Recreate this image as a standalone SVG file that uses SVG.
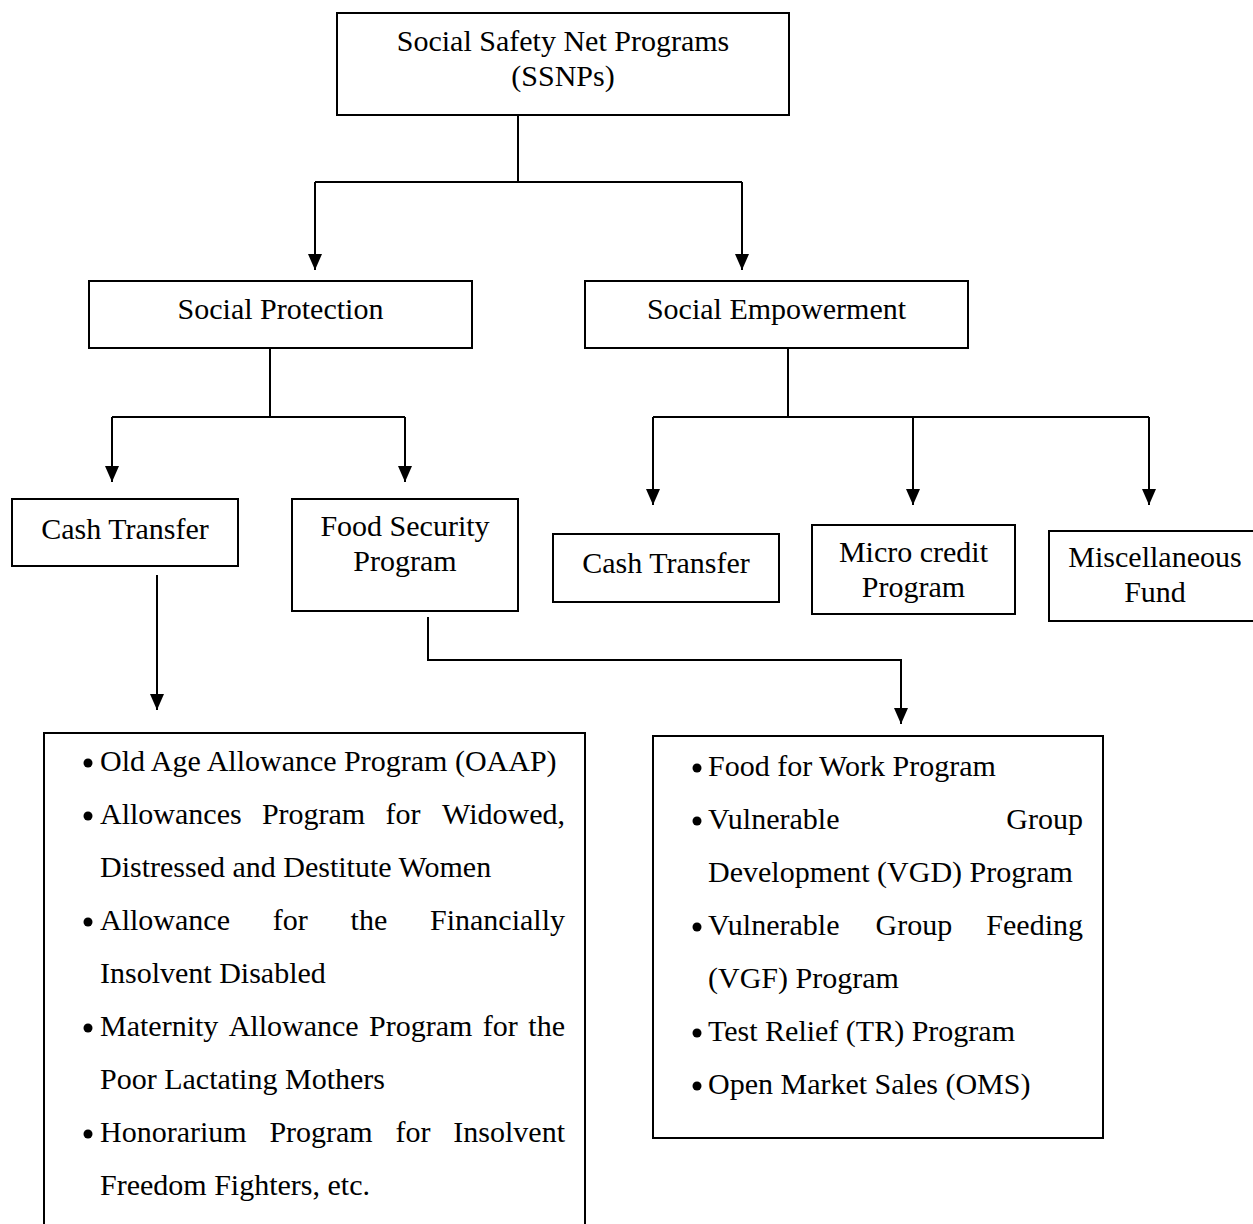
<svg xmlns="http://www.w3.org/2000/svg" width="1253" height="1224" viewBox="0 0 1253 1224">
<style>
  .box { fill: #ffffff; stroke: #000000; stroke-width: 2; }
  .lbl { font-family: "Liberation Serif", "Times New Roman", serif; font-size: 30px; fill: #000000; text-anchor: middle; }
  .li { font-family: "Liberation Serif", "Times New Roman", serif; font-size: 30px; fill: #000000; }
  .end { text-anchor: end; }
  .con { fill: none; stroke: #000000; stroke-width: 2; }
  .bul { fill: #000000; }
</style>
<defs>
  <marker id="ah" markerUnits="userSpaceOnUse" markerWidth="16" markerHeight="14" refX="16" refY="7" orient="auto">
    <path d="M0,0 L16,7 L0,14 z" fill="#000000"/>
  </marker>
</defs>
<rect width="1253" height="1224" fill="#ffffff"/>

<g id="connectors">
  <path class="con" d="M518,115 V182 M315,182 H742"/>
  <path class="con" d="M315,182 V270" marker-end="url(#ah)"/>
  <path class="con" d="M742,182 V270" marker-end="url(#ah)"/>
  <path class="con" d="M270,348 V417 M112,417 H405"/>
  <path class="con" d="M112,417 V482" marker-end="url(#ah)"/>
  <path class="con" d="M405,417 V482" marker-end="url(#ah)"/>
  <path class="con" d="M788,348 V417 M653,417 H1149"/>
  <path class="con" d="M653,417 V505" marker-end="url(#ah)"/>
  <path class="con" d="M913,417 V505" marker-end="url(#ah)"/>
  <path class="con" d="M1149,417 V505" marker-end="url(#ah)"/>
  <path class="con" d="M157,575 V710" marker-end="url(#ah)"/>
  <path class="con" d="M428,617 V660 H901 V724" marker-end="url(#ah)"/>
</g>

<g id="ssnp">
  <rect class="box" x="337" y="13" width="452" height="102"/>
  <text class="lbl" x="563" y="51">Social Safety Net Programs</text>
  <text class="lbl" x="563" y="86">(SSNPs)</text>
</g>

<g id="social-protection">
  <rect class="box" x="89" y="281" width="383" height="67"/>
  <text class="lbl" x="280.5" y="319">Social Protection</text>
</g>

<g id="social-empowerment">
  <rect class="box" x="585" y="281" width="383" height="67"/>
  <text class="lbl" x="776.5" y="319">Social Empowerment</text>
</g>

<g id="cash-transfer-1">
  <rect class="box" x="12" y="499" width="226" height="67"/>
  <text class="lbl" x="125" y="539">Cash Transfer</text>
</g>

<g id="food-security">
  <rect class="box" x="292" y="499" width="226" height="112"/>
  <text class="lbl" x="405" y="536">Food Security</text>
  <text class="lbl" x="405" y="571">Program</text>
</g>

<g id="cash-transfer-2">
  <rect class="box" x="553" y="534" width="226" height="68"/>
  <text class="lbl" x="666" y="573">Cash Transfer</text>
</g>

<g id="micro-credit">
  <rect class="box" x="812" y="525" width="203" height="89"/>
  <text class="lbl" x="913.5" y="562">Micro credit</text>
  <text class="lbl" x="913.5" y="597">Program</text>
</g>

<g id="misc-fund">
  <rect class="box" x="1049" y="531" width="210" height="90"/>
  <text class="lbl" x="1155" y="567">Miscellaneous</text>
  <text class="lbl" x="1155" y="602">Fund</text>
</g>

<g id="cash-list">
  <rect class="box" x="44" y="733" width="541" height="500"/>
  <circle class="bul" cx="88" cy="763" r="4.5"/>
  <text class="li" x="100" y="771">Old Age Allowance Program (OAAP)</text>
  <circle class="bul" cx="88" cy="816" r="4.5"/>
  <text class="li" y="824"><tspan x="100">Allowances</tspan><tspan x="261.9">Program</tspan><tspan x="385.5">for</tspan></text>
  <text class="li end" x="565" y="824">Widowed,</text>
  <text class="li" x="100" y="877">Distressed and Destitute Women</text>
  <circle class="bul" cx="88" cy="922" r="4.5"/>
  <text class="li" y="930"><tspan x="100">Allowance</tspan><tspan x="272.8">for</tspan><tspan x="350.6">the</tspan></text>
  <text class="li end" x="565" y="930">Financially</text>
  <text class="li" x="100" y="983">Insolvent Disabled</text>
  <circle class="bul" cx="88" cy="1028" r="4.5"/>
  <text class="li" y="1036"><tspan x="100">Maternity</tspan><tspan x="228.7">Allowance</tspan><tspan x="369.1">Program</tspan><tspan x="482.8">for</tspan></text>
  <text class="li end" x="565" y="1036">the</text>
  <text class="li" x="100" y="1089">Poor Lactating Mothers</text>
  <circle class="bul" cx="88" cy="1134" r="4.5"/>
  <text class="li" y="1142"><tspan x="100">Honorarium</tspan><tspan x="269.4">Program</tspan><tspan x="395.5">for</tspan></text>
  <text class="li end" x="565" y="1142">Insolvent</text>
  <text class="li" x="100" y="1195">Freedom Fighters, etc.</text>
</g>

<g id="food-list">
  <rect class="box" x="653" y="736" width="450" height="402"/>
  <circle class="bul" cx="697" cy="768" r="4.5"/>
  <text class="li" x="708" y="776">Food for Work Program</text>
  <circle class="bul" cx="697" cy="821" r="4.5"/>
  <text class="li" x="708" y="829">Vulnerable</text>
  <text class="li end" x="1083" y="829">Group</text>
  <text class="li" x="708" y="882">Development (VGD) Program</text>
  <circle class="bul" cx="697" cy="927" r="4.5"/>
  <text class="li" y="935"><tspan x="708">Vulnerable</tspan><tspan x="875.5">Group</tspan></text>
  <text class="li end" x="1083" y="935">Feeding</text>
  <text class="li" x="708" y="988">(VGF) Program</text>
  <circle class="bul" cx="697" cy="1033" r="4.5"/>
  <text class="li" x="708" y="1041">Test Relief (TR) Program</text>
  <circle class="bul" cx="697" cy="1086" r="4.5"/>
  <text class="li" x="708" y="1094">Open Market Sales (OMS)</text>
</g>
</svg>
